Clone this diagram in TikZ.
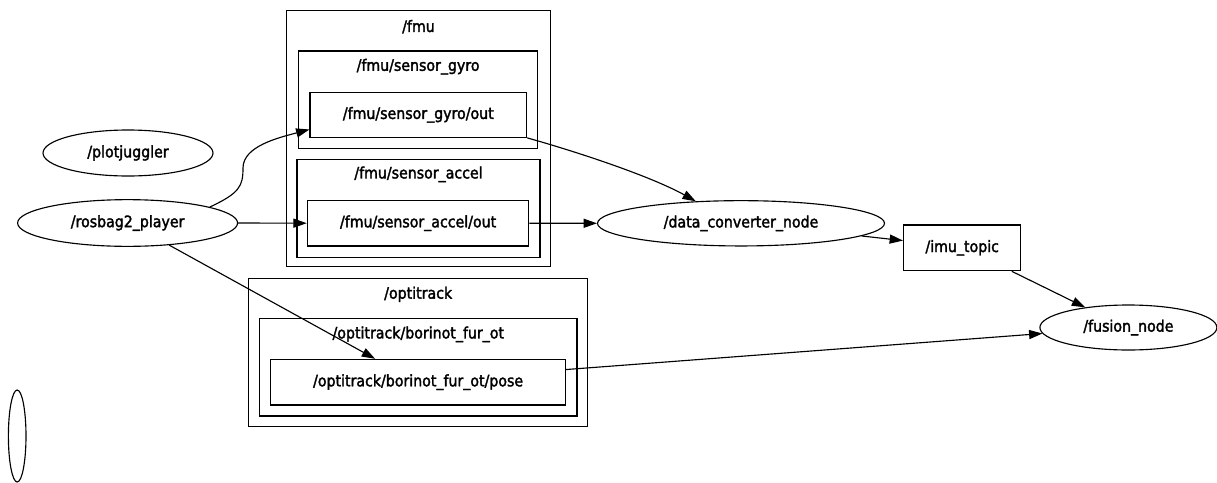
\documentclass[tikz,border=0pt]{standalone}
\usepackage{fontspec}
\setmainfont{DejaVu Sans}[FakeStretch=0.9,FakeBold=2]
\usetikzlibrary{shapes.geometric,arrows.meta}
\begin{document}
\begin{tikzpicture}[x=0.75pt,y=-0.75pt,
  every node/.style={font=\fontsize{11.8}{14}\selectfont, inner sep=0pt, line width=0.85pt},
  box/.style args={#1x#2}{draw, rectangle, minimum width={#1*0.75pt}, minimum height={#2*0.75pt}},
  oval/.style args={#1x#2}{draw, ellipse, minimum width={#1*0.75pt}, minimum height={#2*0.75pt}},
  lbl/.style={anchor=center},
  edge/.style={line width=0.85pt, -{Triangle[length=10pt,width=6.8pt]}}]
\useasboundingbox (0,0) rectangle (1217,482);
% clusters
\node[box=263.7x256] (fmu) at (418.5,138.7) {};
\node[lbl] (fmulbl) at (418.5,26.7) {/fmu};
\node[box=238.4x97.3] (gyroC) at (418.1,99.7) {};
\node[lbl] (gyrolbl) at (418.1,66.7) {/fmu/sensor\_gyro};
\node[box=243x98] (accC) at (418.5,208.3) {};
\node[lbl] (acclbl) at (418.5,174.3) {/fmu/sensor\_accel};
\node[box=338.7x148.4] (opt) at (418.2,352.5) {};
\node[lbl] (optlbl) at (418.2,294.3) {/optitrack};
\node[box=317.5x97.7] (bor) at (418.3,367.2) {};
\node[lbl] (borlbl) at (418.3,334.3) {/optitrack/borinot\_fur\_ot};
% topics
\node[box=216.6x45] (go) at (418.3,114.8) {/fmu/sensor\_gyro/out};
\node[box=221.6x45.7] (ao) at (418.1,223.2) {/fmu/sensor\_accel/out};
\node[box=295x45.7] (pose) at (418.1,382.2) {/optitrack/borinot\_fur\_ot/pose};
\node[box=117.3x45.7] (imu) at (962.2,247.9) {/imu\_topic};
% nodes
\node[oval=170x46] (pj) at (128,153) {/plotjuggler};
\node[oval=220x46.7] (rb) at (127.6,223) {/rosbag2\_player};
\node[oval=287x45.3] (dc) at (741,223.3) {/data\_converter\_node};
\node[oval=177x45] (fu) at (1128.4,327.5) {/fusion\_node};
\node[oval=17.6x92] (empty) at (17.2,436) {};
% edges
\draw[edge] (rb.11) .. controls +(30,-14) and +(0,18) .. (243,168) .. controls +(0,-22) and +(-30,8) .. ([yshift=-11pt]go.west);
\draw[edge] (rb.east) -- (ao.west);
\draw[edge] (rb.-28) -- ([xshift=-32.25pt]pose.north);
\draw[edge] (go.south east) .. controls +(50,14) and +(-45,-25) .. (dc.154);
\draw[edge] (ao.east) -- (dc.west);
\draw[edge] (dc.-6) -- ([yshift=5.5pt]imu.west);
\draw[edge] ([xshift=37.2pt]imu.south) -- (fu.155);
\draw[edge] ([yshift=9.5pt]pose.east) -- (fu.184);
\end{tikzpicture}
\end{document}
